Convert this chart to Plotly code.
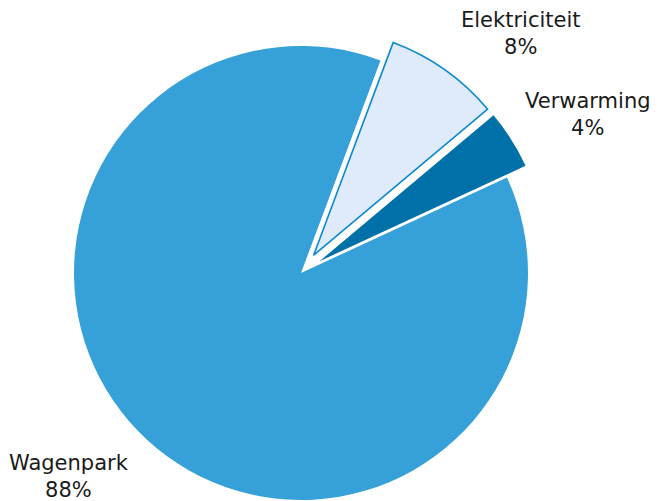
import math
import plotly.graph_objects as go

# ---- data ----
labels = ["Elektriciteit", "Verwarming", "Wagenpark"]
values = [8.2, 4.2, 87.6]
shown_pct = [8, 4, 88]

# ---- style ----
fill_colors = ["#dfebfa", "#0070a8", "#36a0d8"]
line_colors = ["#0a8ad2", "#0070a8", "#36a0d8"]
line_widths = [1.6, 0, 0]
explode = [0.097, 0.097, 0.0]          # fraction of radius
label_pos = [(0.7773, 0.950), (0.8795, 0.7884), (0.0924, 0.0640)]  # paper coords

W, H = 660, 501
R = 227.0
CX, CY = 293.0, 265.0
ROT = 20.5

total = sum(values)
fig = go.Figure()
cum = 0.0
for i, v in enumerate(values):
    mid = math.radians(ROT + 360.0 * (cum + v / 2.0) / total)
    cum += v
    cx = CX + explode[i] * R * math.sin(mid)
    cy = CY - explode[i] * R * math.cos(mid)
    dom_x = [(cx - R) / W, (cx + R) / W]
    dom_y = [max(0.0, 1 - (cy + R) / H), min(1.0, 1 - (cy - R) / H)]
    cols = [fill_colors[j] if j == i else "rgba(0,0,0,0)" for j in range(len(values))]
    lcols = [line_colors[j] if j == i else "rgba(0,0,0,0)" for j in range(len(values))]
    lw = [line_widths[j] if j == i else 0 for j in range(len(values))]
    fig.add_trace(go.Pie(
        labels=labels, values=values, sort=False, direction="clockwise",
        rotation=ROT, textinfo="none", hoverinfo="skip", showlegend=False,
        marker=dict(colors=cols, line=dict(color=lcols, width=lw)),
        domain=dict(x=dom_x, y=dom_y),
    ))

annotations = []
for lab, pct, (px, py) in zip(labels, shown_pct, label_pos):
    annotations.append(dict(
        text=f"{lab}<br>{pct}%", x=px, y=py, xref="paper", yref="paper",
        xanchor="center", yanchor="middle", showarrow=False, align="center",
        font=dict(family="DejaVu Sans", size=21, color="#1a1a1a"),
    ))

fig.update_layout(
    width=W, height=H, margin=dict(l=0, r=0, t=0, b=0),
    paper_bgcolor="white", plot_bgcolor="white",
    annotations=annotations, showlegend=False,
)
fig.write_html("out.html")
